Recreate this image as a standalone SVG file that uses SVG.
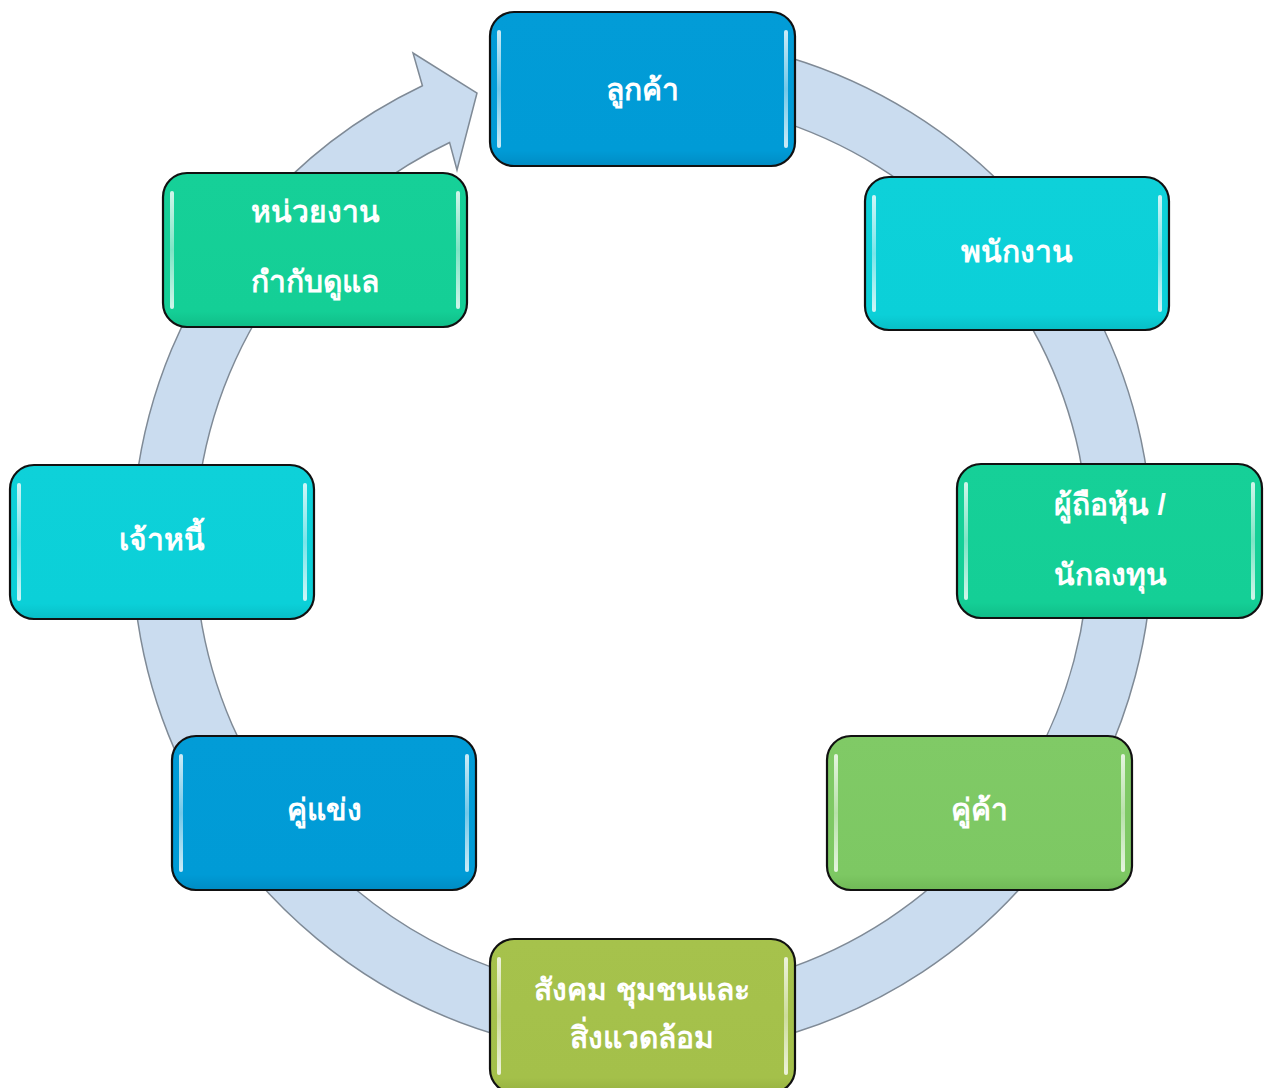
<svg xmlns="http://www.w3.org/2000/svg" width="1264" height="1088" viewBox="0 0 1264 1088">
<style>
.box{stroke:#111;stroke-width:2.2}
.hl{fill:url(#gHl)}
.t{font-family:"Liberation Sans",sans-serif;font-weight:bold;font-size:30px;fill:#ffffff;text-anchor:middle}
.blue{fill:url(#gBlue)}
.cyan{fill:url(#gCyan)}
.green{fill:url(#gGreen)}
.lgreen{fill:url(#gLGreen)}
.olive{fill:url(#gOlive)}
</style>
<defs>
<linearGradient id="gHl" x1="0" y1="0" x2="0" y2="1"><stop offset="0" stop-color="#ffffff" stop-opacity="0.8"/><stop offset="0.5" stop-color="#ffffff" stop-opacity="0.45"/><stop offset="1" stop-color="#ffffff" stop-opacity="0.8"/></linearGradient>
<linearGradient id="gBlue" x1="0" y1="0" x2="0" y2="1"><stop offset="0" stop-color="#029cd7"/><stop offset="0.9" stop-color="#009bd6"/><stop offset="1" stop-color="#008cc4"/></linearGradient>
<linearGradient id="gCyan" x1="0" y1="0" x2="0" y2="1"><stop offset="0" stop-color="#0ed1d9"/><stop offset="0.9" stop-color="#0bd0d8"/><stop offset="1" stop-color="#08bec6"/></linearGradient>
<linearGradient id="gGreen" x1="0" y1="0" x2="0" y2="1"><stop offset="0" stop-color="#16d098"/><stop offset="0.9" stop-color="#14cf96"/><stop offset="1" stop-color="#10bd88"/></linearGradient>
<linearGradient id="gLGreen" x1="0" y1="0" x2="0" y2="1"><stop offset="0" stop-color="#80ca66"/><stop offset="0.9" stop-color="#7dc863"/><stop offset="1" stop-color="#70b957"/></linearGradient>
<linearGradient id="gOlive" x1="0" y1="0" x2="0" y2="1"><stop offset="0" stop-color="#a6c24c"/><stop offset="0.9" stop-color="#a4c04a"/><stop offset="1" stop-color="#96b140"/></linearGradient>
</defs>
<g id="connectors">
<path d="M553.4,43.7 A510,510 0 1 1 422.4,85.7 L413,53 L477,93 L457,170 L449.6,142.5 A447,447 0 1 0 564.4,105.8 Z" fill="#cadcef" stroke="#7f8a96" stroke-width="1.5"/>
</g>
<g id="node1">
<rect class="box blue" x="490" y="12" width="305" height="154" rx="24"/>
<rect class="hl" x="497" y="30" width="4" height="118" rx="2"/><rect class="hl" x="784" y="30" width="4" height="118" rx="2"/>
<text class="t" x="642" y="100">ลูกค้า</text>
</g>
<g id="node2">
<rect class="box cyan" x="865" y="177" width="304" height="153" rx="24"/>
<rect class="hl" x="872" y="195" width="4" height="117" rx="2"/><rect class="hl" x="1158" y="195" width="4" height="117" rx="2"/>
<text class="t" x="1017" y="262">พนักงาน</text>
</g>
<g id="node3">
<rect class="box green" x="957" y="464" width="305" height="154" rx="24"/>
<rect class="hl" x="964" y="482" width="4" height="118" rx="2"/><rect class="hl" x="1251" y="482" width="4" height="118" rx="2"/>
<text class="t" x="1110" y="515">ผู้ถือหุ้น /</text>
<text class="t" x="1110" y="585">นักลงทุน</text>
</g>
<g id="node4">
<rect class="box lgreen" x="827" y="736" width="305" height="154" rx="24"/>
<rect class="hl" x="834" y="754" width="4" height="118" rx="2"/><rect class="hl" x="1121" y="754" width="4" height="118" rx="2"/>
<text class="t" x="979" y="820">คู่ค้า</text>
</g>
<g id="node5">
<rect class="box olive" x="490" y="939" width="305" height="154" rx="24"/>
<rect class="hl" x="497" y="957" width="4" height="118" rx="2"/><rect class="hl" x="784" y="957" width="4" height="118" rx="2"/>
<text class="t" x="642" y="1000">สังคม ชุมชนและ</text>
<text class="t" x="642" y="1048">สิ่งแวดล้อม</text>
</g>
<g id="node6">
<rect class="box blue" x="172" y="736" width="304" height="154" rx="24"/>
<rect class="hl" x="179" y="754" width="4" height="118" rx="2"/><rect class="hl" x="465" y="754" width="4" height="118" rx="2"/>
<text class="t" x="324" y="820">คู่แข่ง</text>
</g>
<g id="node7">
<rect class="box cyan" x="10" y="465" width="304" height="154" rx="24"/>
<rect class="hl" x="17" y="483" width="4" height="118" rx="2"/><rect class="hl" x="303" y="483" width="4" height="118" rx="2"/>
<text class="t" x="162" y="550">เจ้าหนี้</text>
</g>
<g id="node8">
<rect class="box green" x="163" y="173" width="304" height="154" rx="24"/>
<rect class="hl" x="170" y="191" width="4" height="118" rx="2"/><rect class="hl" x="456" y="191" width="4" height="118" rx="2"/>
<text class="t" x="315" y="222">หน่วยงาน</text>
<text class="t" x="315" y="292">กำกับดูแล</text>
</g>
</svg>
